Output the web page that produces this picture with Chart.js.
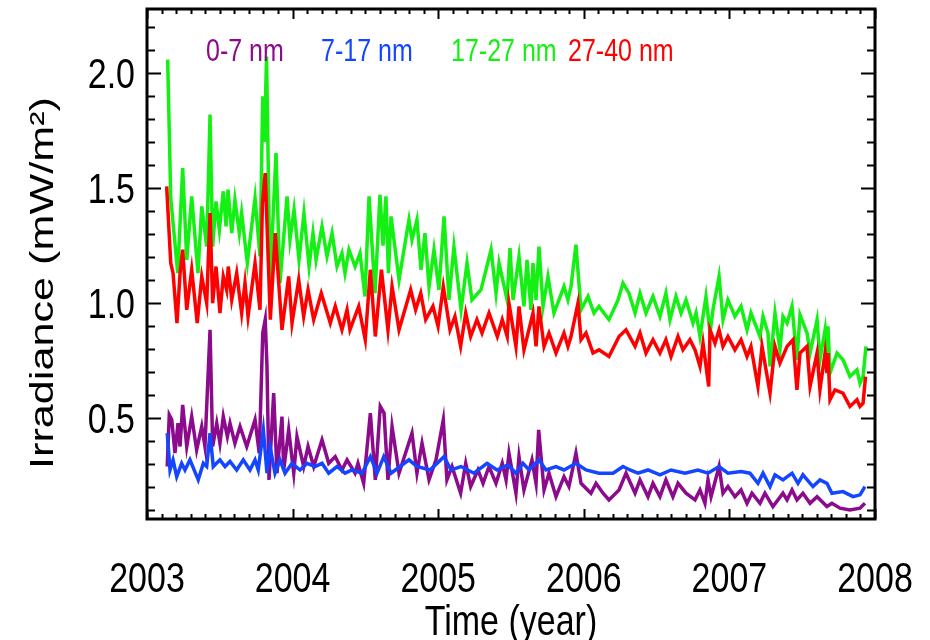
<!DOCTYPE html>
<html>
<head>
<meta charset="utf-8">
<title>Irradiance</title>
<script src="https://cdn.jsdelivr.net/npm/chart.js@4.4.1/dist/chart.umd.min.js"></script>
<style>
  html, body { margin: 0; padding: 0; background: #fff; }
  #c { display: block; }
</style>
</head>
<body>
<canvas id="c" width="930" height="640"></canvas>
<script>
/* ── data (decimal year / irradiance mW/m2) ─────────── */
var YEAR_TICKS = [2003, 2004, 2005, 2006, 2007, 2008];
var IRR_TICKS  = [0.5, 1.0, 1.5, 2.0];

var SERIES_LABELS = ['0-7 nm', '7-17 nm', '17-27 nm', '27-40 nm'];
var SERIES_COLORS = ['#8c0a8c', '#1446ff', '#14f014', '#ff0000'];

var GREEN_T = [
  2003.142, 2003.163, 2003.211, 2003.245, 2003.273, 2003.307, 2003.350, 2003.376, 2003.410, 2003.433,
  2003.451, 2003.474, 2003.497, 2003.524, 2003.543, 2003.556, 2003.582, 2003.604, 2003.634, 2003.650,
  2003.689, 2003.742, 2003.776, 2003.795, 2003.807, 2003.821, 2003.845, 2003.886, 2003.913, 2003.962,
  2003.982, 2004.010, 2004.044, 2004.078, 2004.113, 2004.140, 2004.161, 2004.202, 2004.236, 2004.271,
  2004.305, 2004.339, 2004.360, 2004.387, 2004.429, 2004.463, 2004.497, 2004.525, 2004.566, 2004.600,
  2004.621, 2004.641, 2004.658, 2004.676, 2004.731, 2004.799, 2004.820, 2004.854, 2004.882, 2004.909,
  2004.937, 2004.971, 2005.005, 2005.040, 2005.074, 2005.108, 2005.157, 2005.198, 2005.232, 2005.294,
  2005.363, 2005.397, 2005.418, 2005.473, 2005.493, 2005.514, 2005.555, 2005.589, 2005.610, 2005.637,
  2005.651, 2005.672, 2005.692, 2005.720, 2005.754, 2005.795, 2005.864, 2005.891, 2005.912, 2005.946,
  2005.981, 2006.029, 2006.070, 2006.104, 2006.173, 2006.235, 2006.269, 2006.310, 2006.352, 2006.386,
  2006.427, 2006.475, 2006.523, 2006.564, 2006.592, 2006.633, 2006.668, 2006.702, 2006.750, 2006.771,
  2006.798, 2006.839, 2006.867, 2006.887, 2006.929, 2006.956, 2006.990, 2007.038, 2007.080, 2007.121,
  2007.148, 2007.210, 2007.231, 2007.265, 2007.279, 2007.313, 2007.347, 2007.368, 2007.396, 2007.430,
  2007.464, 2007.485, 2007.533, 2007.554, 2007.602, 2007.622, 2007.657, 2007.670, 2007.677, 2007.691,
  2007.739, 2007.780, 2007.828, 2007.876, 2007.897, 2007.918, 2007.938
];
var GREEN_V = [
  2.058, 1.457, 1.130, 1.587, 1.188, 1.464, 1.130, 1.420, 1.246, 1.819,
  1.246, 1.442, 1.319, 1.486, 1.333, 1.493, 1.304, 1.449, 1.304, 1.391,
  1.174, 1.457, 1.203, 1.899, 1.700, 2.072, 1.087, 1.652, 1.087, 1.464,
  1.275, 1.406, 1.188, 1.391, 1.159, 1.304, 1.188, 1.333, 1.203, 1.304,
  1.159, 1.217, 1.130, 1.232, 1.159, 1.217, 1.029, 1.464, 1.043, 1.471,
  1.250, 1.464, 1.130, 1.377, 1.101, 1.362, 1.275, 1.362, 1.145, 1.304,
  1.072, 1.232, 1.058, 1.377, 1.014, 1.246, 0.971, 1.174, 1.014, 1.058,
  1.232, 1.043, 1.174, 1.014, 1.239, 1.014, 1.203, 0.986, 1.188, 0.971,
  1.174, 1.014, 1.246, 0.986, 1.116, 0.957, 1.072, 1.014, 1.072, 1.254,
  0.971, 1.029, 0.957, 0.986, 0.928, 1.014, 1.087, 1.043, 0.957, 1.043,
  0.957, 1.029, 0.942, 1.043, 0.928, 1.029, 0.957, 1.014, 0.913, 0.957,
  0.855, 1.029, 0.870, 0.971, 1.116, 0.928, 1.014, 0.942, 0.986, 0.884,
  0.957, 0.855, 0.942, 0.870, 0.725, 0.957, 0.797, 0.942, 0.913, 0.986,
  0.754, 0.949, 0.870, 0.783, 0.928, 0.754, 0.884, 0.754, 0.899, 0.696,
  0.783, 0.754, 0.681, 0.710, 0.652, 0.681, 0.812
];

var RED_T = [
  2003.135, 2003.163, 2003.179, 2003.206, 2003.227, 2003.245, 2003.273, 2003.307, 2003.345, 2003.376,
  2003.410, 2003.433, 2003.451, 2003.474, 2003.501, 2003.524, 2003.547, 2003.558, 2003.582, 2003.616,
  2003.650, 2003.673, 2003.694, 2003.742, 2003.776, 2003.793, 2003.812, 2003.847, 2003.881, 2003.927,
  2003.973, 2003.996, 2004.042, 2004.076, 2004.106, 2004.145, 2004.197, 2004.259, 2004.293, 2004.339,
  2004.374, 2004.394, 2004.454, 2004.499, 2004.534, 2004.568, 2004.610, 2004.655, 2004.683, 2004.731,
  2004.811, 2004.845, 2004.880, 2004.914, 2004.964, 2004.999, 2005.035, 2005.081, 2005.115, 2005.154,
  2005.189, 2005.223, 2005.266, 2005.301, 2005.349, 2005.406, 2005.440, 2005.474, 2005.486, 2005.534,
  2005.555, 2005.589, 2005.651, 2005.672, 2005.692, 2005.727, 2005.761, 2005.809, 2005.864, 2005.891,
  2005.912, 2005.960, 2005.981, 2006.015, 2006.063, 2006.104, 2006.173, 2006.242, 2006.290, 2006.352,
  2006.386, 2006.427, 2006.475, 2006.523, 2006.564, 2006.599, 2006.647, 2006.681, 2006.729, 2006.764,
  2006.798, 2006.819, 2006.858, 2006.867, 2006.901, 2006.929, 2006.956, 2006.990, 2007.038, 2007.080,
  2007.121, 2007.148, 2007.196, 2007.224, 2007.279, 2007.313, 2007.347, 2007.396, 2007.437, 2007.464,
  2007.485, 2007.533, 2007.554, 2007.602, 2007.622, 2007.657, 2007.670, 2007.677, 2007.691, 2007.725,
  2007.780, 2007.828, 2007.876, 2007.897, 2007.918, 2007.935
];
var RED_V = [
  1.507, 1.174, 1.130, 0.913, 1.130, 1.232, 0.971, 1.145, 0.913, 1.116,
  1.000, 1.391, 1.000, 1.159, 0.957, 1.116, 1.058, 1.159, 1.014, 1.130,
  0.957, 1.087, 0.942, 1.174, 0.971, 1.435, 1.565, 0.928, 1.304, 0.884,
  1.116, 0.913, 1.101, 0.942, 1.058, 0.928, 1.043, 0.913, 0.986, 0.884,
  0.971, 0.884, 0.986, 0.841, 1.145, 0.855, 1.145, 0.884, 1.072, 0.884,
  1.058, 0.971, 1.043, 0.928, 0.986, 0.899, 1.072, 0.884, 0.942, 0.812,
  0.957, 0.855, 0.928, 0.870, 0.957, 0.855, 0.928, 0.855, 1.000, 0.812,
  0.986, 0.797, 0.957, 0.812, 0.986, 0.812, 0.870, 0.783, 0.870, 0.812,
  0.855, 1.000, 0.841, 0.870, 0.783, 0.797, 0.768, 0.855, 0.884, 0.812,
  0.870, 0.783, 0.841, 0.783, 0.841, 0.768, 0.855, 0.797, 0.841, 0.797,
  0.725, 0.826, 0.638, 0.884, 0.826, 0.884, 0.812, 0.855, 0.797, 0.841,
  0.768, 0.812, 0.638, 0.812, 0.609, 0.812, 0.739, 0.812, 0.841, 0.623,
  0.783, 0.812, 0.638, 0.783, 0.623, 0.783, 0.696, 0.783, 0.580, 0.623,
  0.609, 0.551, 0.580, 0.551, 0.565, 0.681
];

var PURPLE_T = [
  2003.139, 2003.153, 2003.170, 2003.192, 2003.213, 2003.227, 2003.245, 2003.273, 2003.307, 2003.341,
  2003.376, 2003.398, 2003.433, 2003.451, 2003.479, 2003.501, 2003.524, 2003.552, 2003.570, 2003.604,
  2003.639, 2003.685, 2003.742, 2003.771, 2003.795, 2003.812, 2003.824, 2003.838, 2003.870, 2003.893,
  2003.927, 2003.939, 2003.973, 2004.008, 2004.030, 2004.076, 2004.106, 2004.145, 2004.202, 2004.248,
  2004.293, 2004.339, 2004.374, 2004.429, 2004.449, 2004.488, 2004.534, 2004.568, 2004.602, 2004.628,
  2004.655, 2004.683, 2004.731, 2004.820, 2004.854, 2004.889, 2004.937, 2004.985, 2005.035, 2005.060,
  2005.095, 2005.154, 2005.189, 2005.223, 2005.273, 2005.308, 2005.349, 2005.397, 2005.440, 2005.466,
  2005.486, 2005.534, 2005.555, 2005.589, 2005.644, 2005.672, 2005.690, 2005.727, 2005.761, 2005.809,
  2005.864, 2005.898, 2005.946, 2005.981, 2006.049, 2006.084, 2006.132, 2006.173, 2006.242, 2006.290,
  2006.352, 2006.386, 2006.441, 2006.475, 2006.523, 2006.564, 2006.612, 2006.647, 2006.702, 2006.764,
  2006.798, 2006.832, 2006.853, 2006.874, 2006.929, 2006.956, 2006.990, 2007.038, 2007.080, 2007.121,
  2007.155, 2007.210, 2007.244, 2007.299, 2007.368, 2007.396, 2007.430, 2007.464, 2007.505, 2007.554,
  2007.602, 2007.670, 2007.704, 2007.760, 2007.828, 2007.897, 2007.931
];
var PURPLE_V = [
  0.290, 0.514, 0.493, 0.348, 0.478, 0.377, 0.558, 0.377, 0.507, 0.362,
  0.464, 0.377, 0.884, 0.377, 0.478, 0.391, 0.507, 0.420, 0.478, 0.391,
  0.464, 0.377, 0.493, 0.348, 0.870, 0.928, 0.725, 0.232, 0.609, 0.261,
  0.507, 0.275, 0.449, 0.261, 0.420, 0.290, 0.377, 0.290, 0.406, 0.304,
  0.333, 0.275, 0.319, 0.261, 0.304, 0.217, 0.522, 0.232, 0.551, 0.522,
  0.232, 0.464, 0.261, 0.435, 0.261, 0.391, 0.232, 0.319, 0.493, 0.232,
  0.290, 0.174, 0.304, 0.203, 0.275, 0.217, 0.290, 0.217, 0.304, 0.232,
  0.348, 0.174, 0.333, 0.188, 0.319, 0.217, 0.449, 0.188, 0.261, 0.159,
  0.246, 0.203, 0.348, 0.217, 0.174, 0.217, 0.174, 0.145, 0.188, 0.261,
  0.174, 0.232, 0.159, 0.217, 0.159, 0.232, 0.159, 0.217, 0.174, 0.145,
  0.188, 0.130, 0.232, 0.159, 0.290, 0.174, 0.203, 0.159, 0.188, 0.130,
  0.174, 0.130, 0.174, 0.116, 0.174, 0.145, 0.188, 0.145, 0.174, 0.130,
  0.159, 0.116, 0.130, 0.109, 0.101, 0.109, 0.130
];

var BLUE_T = [
  2003.139, 2003.158, 2003.179, 2003.204, 2003.238, 2003.261, 2003.295, 2003.352, 2003.387, 2003.410,
  2003.433, 2003.455, 2003.501, 2003.536, 2003.570, 2003.616, 2003.661, 2003.707, 2003.742, 2003.764,
  2003.799, 2003.824, 2003.845, 2003.879, 2003.913, 2003.948, 2003.996, 2004.051, 2004.099, 2004.154,
  2004.202, 2004.248, 2004.305, 2004.360, 2004.408, 2004.477, 2004.534, 2004.580, 2004.626, 2004.676,
  2004.738, 2004.799, 2004.854, 2004.944, 2005.040, 2005.088, 2005.157, 2005.246, 2005.335, 2005.404,
  2005.479, 2005.534, 2005.582, 2005.624, 2005.692, 2005.740, 2005.809, 2005.864, 2005.946, 2006.015,
  2006.104, 2006.201, 2006.269, 2006.317, 2006.372, 2006.441, 2006.523, 2006.599, 2006.695, 2006.784,
  2006.853, 2006.929, 2006.990, 2007.080, 2007.141, 2007.196, 2007.231, 2007.279, 2007.313, 2007.368,
  2007.430, 2007.471, 2007.505, 2007.574, 2007.622, 2007.670, 2007.704, 2007.780, 2007.849, 2007.897,
  2007.931
];
var BLUE_V = [
  0.435, 0.275, 0.319, 0.246, 0.304, 0.275, 0.319, 0.232, 0.304, 0.290,
  0.435, 0.290, 0.319, 0.290, 0.312, 0.275, 0.319, 0.275, 0.319, 0.275,
  0.449, 0.261, 0.377, 0.261, 0.319, 0.261, 0.304, 0.275, 0.304, 0.290,
  0.304, 0.261, 0.290, 0.261, 0.275, 0.261, 0.333, 0.261, 0.333, 0.261,
  0.290, 0.319, 0.290, 0.275, 0.333, 0.275, 0.290, 0.261, 0.304, 0.275,
  0.297, 0.261, 0.304, 0.275, 0.319, 0.275, 0.290, 0.275, 0.304, 0.275,
  0.261, 0.261, 0.290, 0.275, 0.261, 0.275, 0.254, 0.275, 0.261, 0.275,
  0.261, 0.290, 0.261, 0.268, 0.261, 0.217, 0.261, 0.203, 0.254, 0.232,
  0.261, 0.217, 0.254, 0.203, 0.232, 0.217, 0.174, 0.181, 0.159, 0.167,
  0.203
];

var FONT      = "'Liberation Sans', Arial, Helvetica, sans-serif";
var V_STRETCH = 1.27;   // the original figure's lettering is drawn taller than wide

function pts(t, v) {
  return t.map(function(x, i) { return { x: x, y: v[i] }; });
}

function seriesDs(i, t, v) {
  return {
    label:       SERIES_LABELS[i],
    data:        pts(t, v),
    borderColor: SERIES_COLORS[i],
    borderWidth: 3.5,
    pointRadius: 0,
    tension:     0,
    fill:        false,
  };
}

/* text drawn with the same vertical stretch as the source figure */
function tallText(ctx, txt, x, y, align, size, color, rot) {
  ctx.save();
  ctx.translate(x, y);
  ctx.scale(1, V_STRETCH);
  if (rot) ctx.rotate(rot);
  ctx.font = size + 'px ' + FONT;
  ctx.textAlign = align;
  ctx.textBaseline = 'alphabetic';
  ctx.fillStyle = color;
  ctx.fillText(txt, 0, 0);
  ctx.restore();
}

/* ── IDL style frame : box + inward ticks on four sides ── */
var frameBox = {
  id: 'frameBox',
  afterDatasetsDraw: function(chart) {
    var ctx = chart.ctx, a = chart.chartArea;
    var xs = chart.scales.x, ys = chart.scales.y;
    ctx.save();
    ctx.strokeStyle = '#000';
    ctx.lineWidth = 2;
    ctx.beginPath();
    for (var i = 0; i <= 50; i++) {
      var px = Math.round(xs.getPixelForValue(2003 + i / 10)) + 0.5;
      var len = (i % 10 === 0) ? 10 : 5;
      ctx.moveTo(px, a.bottom); ctx.lineTo(px, a.bottom - len);
      ctx.moveTo(px, a.top);    ctx.lineTo(px, a.top + len);
    }
    for (var j = 1; j <= 22; j++) {
      var py = Math.round(ys.getPixelForValue(j / 10)) + 0.5;
      var ylen = (j % 5 === 0) ? 14 : 8;
      ctx.moveTo(a.left, py);  ctx.lineTo(a.left + ylen, py);
      ctx.moveTo(a.right, py); ctx.lineTo(a.right - ylen, py);
    }
    ctx.stroke();
    ctx.lineWidth = 3;
    ctx.strokeRect(a.left, a.top, a.right - a.left, a.bottom - a.top);
    ctx.restore();
  }
};

/* ── tick labels, axis titles and coloured legend ──────── */
var LEGEND_X = [206, 321, 451, 568];
var axisText = {
  id: 'axisText',
  afterDraw: function(chart) {
    var ctx = chart.ctx, a = chart.chartArea;
    var xs = chart.scales.x, ys = chart.scales.y;

    YEAR_TICKS.forEach(function(v) {
      tallText(ctx, String(v), xs.getPixelForValue(v), 592, 'center', 34, '#000');
    });
    IRR_TICKS.forEach(function(v) {
      tallText(ctx, v.toFixed(1), a.left - 12, ys.getPixelForValue(v) + 15, 'right', 34, '#000');
    });
    tallText(ctx, 'Time (year)', (a.left + a.right) / 2, 635, 'center', 34, '#000');
    tallText(ctx, 'Irradiance (mW/m²)', 53, 283, 'center', 34, '#000', -Math.PI / 2);

    SERIES_LABELS.forEach(function(lbl, i) {
      tallText(ctx, lbl, LEGEND_X[i], 61, 'left', 25, SERIES_COLORS[i]);
    });
  }
};

new Chart(document.getElementById('c'), {
  type: 'line',
  data: {
    datasets: [
      seriesDs(3, RED_T, RED_V),
      seriesDs(2, GREEN_T, GREEN_V),
      seriesDs(1, BLUE_T, BLUE_V),
      seriesDs(0, PURPLE_T, PURPLE_V),
    ],
  },
  options: {
    responsive: false,
    animation:  false,
    layout: { padding: { top: 9, right: 55, left: 147, bottom: 121 } },
    plugins: { legend: { display: false }, tooltip: { enabled: false } },
    scales: {
      x: { type: 'linear', display: false, min: 2003,  max: 2008 },
      y: { type: 'linear', display: false, min: 0.062, max: 2.278 },
    },
  },
  plugins: [frameBox, axisText],
});
</script>
</body>
</html>
